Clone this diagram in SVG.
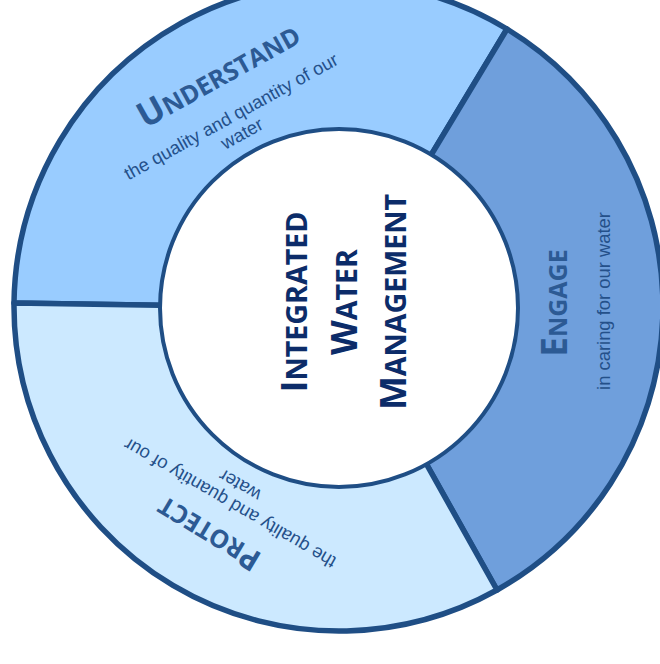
<svg xmlns="http://www.w3.org/2000/svg" width="660" height="664" viewBox="0 0 660 664">
<style>
.seg{stroke:#1f4e85;stroke-width:5.5;stroke-linejoin:round}
.head{font-family:"Open Sans","Liberation Sans",sans-serif;font-weight:700;fill:#2c5a94;font-size:25px;text-anchor:middle}
.head .b{font-size:35px}
.sub{font-family:"Liberation Sans",Arial,sans-serif;fill:#24508a;font-size:18.4px;text-anchor:middle}
.mid{font-family:"Open Sans","Liberation Sans",sans-serif;font-weight:700;fill:#0c2c69;font-size:28.6px;text-anchor:middle}
.mid .b{font-size:36px}
</style>
<rect width="660" height="664" fill="#fff"/>
<g id="understand">
<path class="seg" fill="#99ccff" d="M14,303A325,325 0 0 1 507,29L339,308Z"/>
<text class="head" transform="translate(224,85) rotate(-29)"><tspan class="b">U</tspan>NDERSTAND</text>
<text class="sub" transform="translate(234,122) rotate(-29)">the quality and quantity of our</text>
<text class="sub" transform="translate(245,139) rotate(-29)">water</text>
</g>
<g id="engage">
<path class="seg" fill="#6f9fdc" d="M507,29A325,325 0 0 1 497,590L339,308Z"/>
<text class="head" transform="translate(567,303) rotate(-90)"><tspan class="b">E</tspan>NGAGE</text>
<text class="sub" transform="translate(610,301)rotate(-90)">in caring for our water</text>
</g>
<g id="protect">
<path class="seg" fill="#cce9ff" d="M497,590A325,325 0 0 1 14,303L339,308Z"/>
<text class="head" transform="translate(214,525) rotate(211)"><tspan class="b" style="font-size:30px">P</tspan>ROTECT</text>
<text class="sub" transform="translate(233,498) rotate(210)">the quality and quantity of our</text>
<text class="sub" transform="translate(243,480) rotate(210)">water</text>
</g>
<g id="center">
<circle cx="339" cy="308" r="179" fill="#fff" stroke="#1f4e85" stroke-width="4"/>
<text class="mid" transform="translate(307,302) rotate(-90)"><tspan class="b">I</tspan>NTEGRATED</text>
<text class="mid" transform="translate(357,302) rotate(-90)"><tspan class="b">W</tspan>ATER</text>
<text class="mid" transform="translate(406,302) rotate(-90)"><tspan class="b">M</tspan>ANAGEMENT</text>
</g>
</svg>
